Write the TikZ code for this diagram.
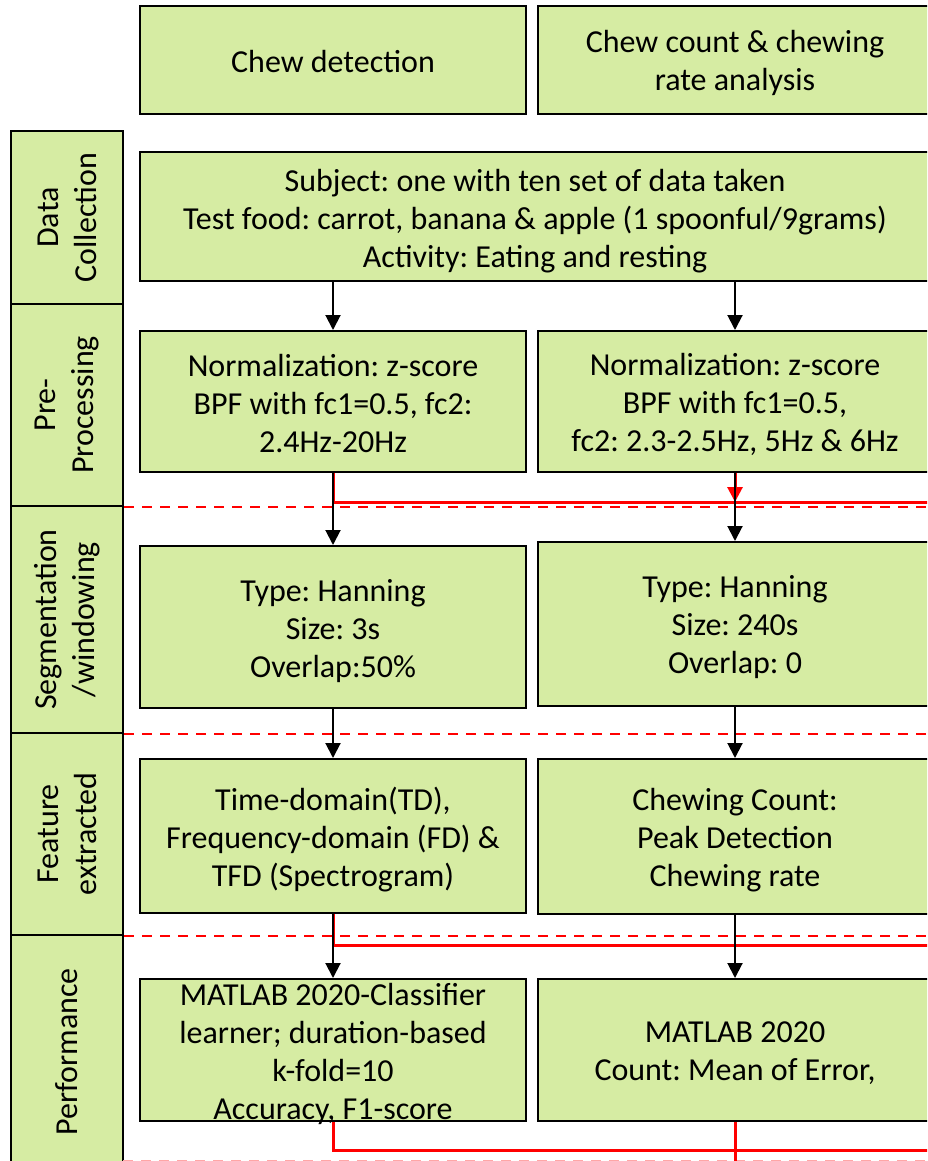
\documentclass[tikz,border=0pt]{standalone}
\usepackage{fontspec}
\setmainfont{Carlito}
\frenchspacing
\usetikzlibrary{arrows.meta}
\definecolor{boxgreen}{RGB}{214,236,163}
\definecolor{linered}{RGB}{255,0,0}
\begin{document}
\begin{tikzpicture}[x=1pt,y=-1pt,
  box/.style={draw=black,line width=2pt,fill=boxgreen,inner sep=0pt},
  txt/.style={inner sep=0pt,align=center,font=\fontsize{32}{38}\selectfont},
  lbl/.style={inner sep=0pt,align=center,rotate=90,font=\fontsize{32}{38}\selectfont},
  arr/.style={draw=black,line width=2pt,-{Triangle[length=15pt,width=15pt]}},
  redsolid/.style={draw=linered,line width=3pt},
  redarr/.style={draw=linered,line width=3pt,-{Triangle[length=15pt,width=15pt]}},
  reddash/.style={draw=linered,line width=2pt,dash pattern=on 10pt off 8pt}]
\useasboundingbox (0,0) rectangle (927,1161);
\clip (0,0) rectangle (927,1161);
% top headers
\node[box,minimum width=386pt,minimum height=108pt] (cd) at (333,60) {};
\node[txt] (cdt) at ([yshift=-2pt]cd.center) {Chew detection};
\node[box,minimum width=394pt,minimum height=108pt] (cc) at (735,60) {};
\node[txt] (cct) at ([yshift=-3pt]cc.center) {Chew count \& chewing\\rate analysis};
% left column
\node[box,minimum width=112pt,minimum height=173pt] (ldc) at (67,217.5) {};
\node[lbl] (tdc) at (ldc) {Data\\Collection};
\node[box,minimum width=112pt,minimum height=202pt] (lpp) at (67,405) {};
\node[lbl] (tpp) at (lpp) {Pre-\\Processing};
\node[box,minimum width=112pt,minimum height=227pt] (lsw) at (67,619.5) {};
\node[lbl] (tsw) at (lsw) {Segmentation\\/windowing};
\node[box,minimum width=112pt,minimum height=202pt] (lfe) at (67,834) {};
\node[lbl] (tfe) at (lfe) {Feature\\extracted};
\node[box,minimum width=112pt,minimum height=240pt] (lpf) at (67,1055) {};
\node[lbl] (tpf) at ([yshift=3pt]lpf.center) {Performance};
% main boxes
\node[box,minimum width=790pt,minimum height=129pt] (dc) at (535,216.5) {};
\node[txt] (dct) at ([yshift=-4.5pt]dc.center)
  {Subject: one with ten set of data taken\\Test food: carrot, banana \& apple (1 spoonful/9grams)\\Activity: Eating and resting};
\node[box,minimum width=386pt,minimum height=141pt] (n1) at (333,401.5) {};
\node[txt] (n1t) at ([yshift=-2.5pt]n1.center)
  {Normalization: z-score\\BPF with fc1=0.5, fc2:\\2.4Hz-20Hz};
\node[box,minimum width=394pt,minimum height=141pt] (n2) at (735,401.5) {};
\node[txt] (n2t) at ([yshift=-2.5pt]n2.center)
  {Normalization: z-score\\BPF with fc1=0.5,\\fc2: 2.3-2.5Hz, 5Hz \& 6Hz};
\node[box,minimum width=386pt,minimum height=162pt] (s1) at (333,627) {};
\node[txt] (s1t) at ([yshift=-4pt]s1.center)
  {Type: Hanning\\Size: 3s\\Overlap:50\%};
\node[box,minimum width=394pt,minimum height=164pt] (s2) at (735,624) {};
\node[txt] (s2t) at ([yshift=-3pt]s2.center)
  {Type: Hanning\\Size: 240s\\Overlap: 0};
\node[box,minimum width=386pt,minimum height=154pt] (f1) at (333,836) {};
\node[txt] (f1t) at ([yshift=-4pt]f1.center)
  {Time-domain(TD),\\Frequency-domain (FD) \&\\TFD (Spectrogram)};
\node[box,minimum width=394pt,minimum height=155pt] (f2) at (735,836.5) {};
\node[txt] (f2t) at ([yshift=-3.5pt]f2.center)
  {Chewing Count:\\Peak Detection\\Chewing rate};
\node[box,minimum width=386pt,minimum height=142pt] (p1) at (333,1050) {};
\node[txt] (p1t) at ([yshift=-3.5pt]p1.center)
  {MATLAB 2020-Classifier\\learner; duration-based\\k-fold=10\\Accuracy, F1-score};
\node[box,minimum width=394pt,minimum height=142pt] (p2) at (735,1050) {};
\node[txt] (p2t) at ([yshift=-3.5pt]p2.center)
  {MATLAB 2020\\Count: Mean of Error,};
% coordinates for red lines
\coordinate (ra) at (333,502);
\coordinate (raE) at (935,502);
\coordinate (rb) at (333,945);
\coordinate (rbE) at (935,945);
\coordinate (rc) at (333,1150);
\coordinate (rcE) at (935,1150);
\coordinate (rdE) at (735,1170);
\coordinate (dE) at (935,0);
% dashed separators
\draw[reddash] (lpp.south east) -- (lpp.south east -| dE);
\draw[reddash] (lsw.south east) -- (lsw.south east -| dE);
\draw[reddash] (lfe.south east) -- (lfe.south east -| dE);
\draw[reddash,draw=linered!35] (123,1161) -- (935,1161);
% red solid lines
\draw[redsolid] (n1.south) -- (ra) -- (raE);
\draw[redarr] (n2.south) -- (n2.south |- ra);
\draw[redsolid] (f1.south) -- (rb) -- (rbE);
\draw[redsolid] (p1.south) -- (rc) -- (rcE);
\draw[redsolid] (p2.south) -- (rdE);
% black arrows
\draw[arr] (n1.north |- dc.south) -- (n1.north);
\draw[arr] (n2.north |- dc.south) -- (n2.north);
\draw[arr] (n1.south) -- (s1.north);
\draw[arr] (n2.south) -- (s2.north);
\draw[arr] (s1.south) -- (f1.north);
\draw[arr] (s2.south) -- (f2.north);
\draw[arr] (f1.south) -- (p1.north);
\draw[arr] (f2.south) -- (p2.north);
\end{tikzpicture}
\end{document}
